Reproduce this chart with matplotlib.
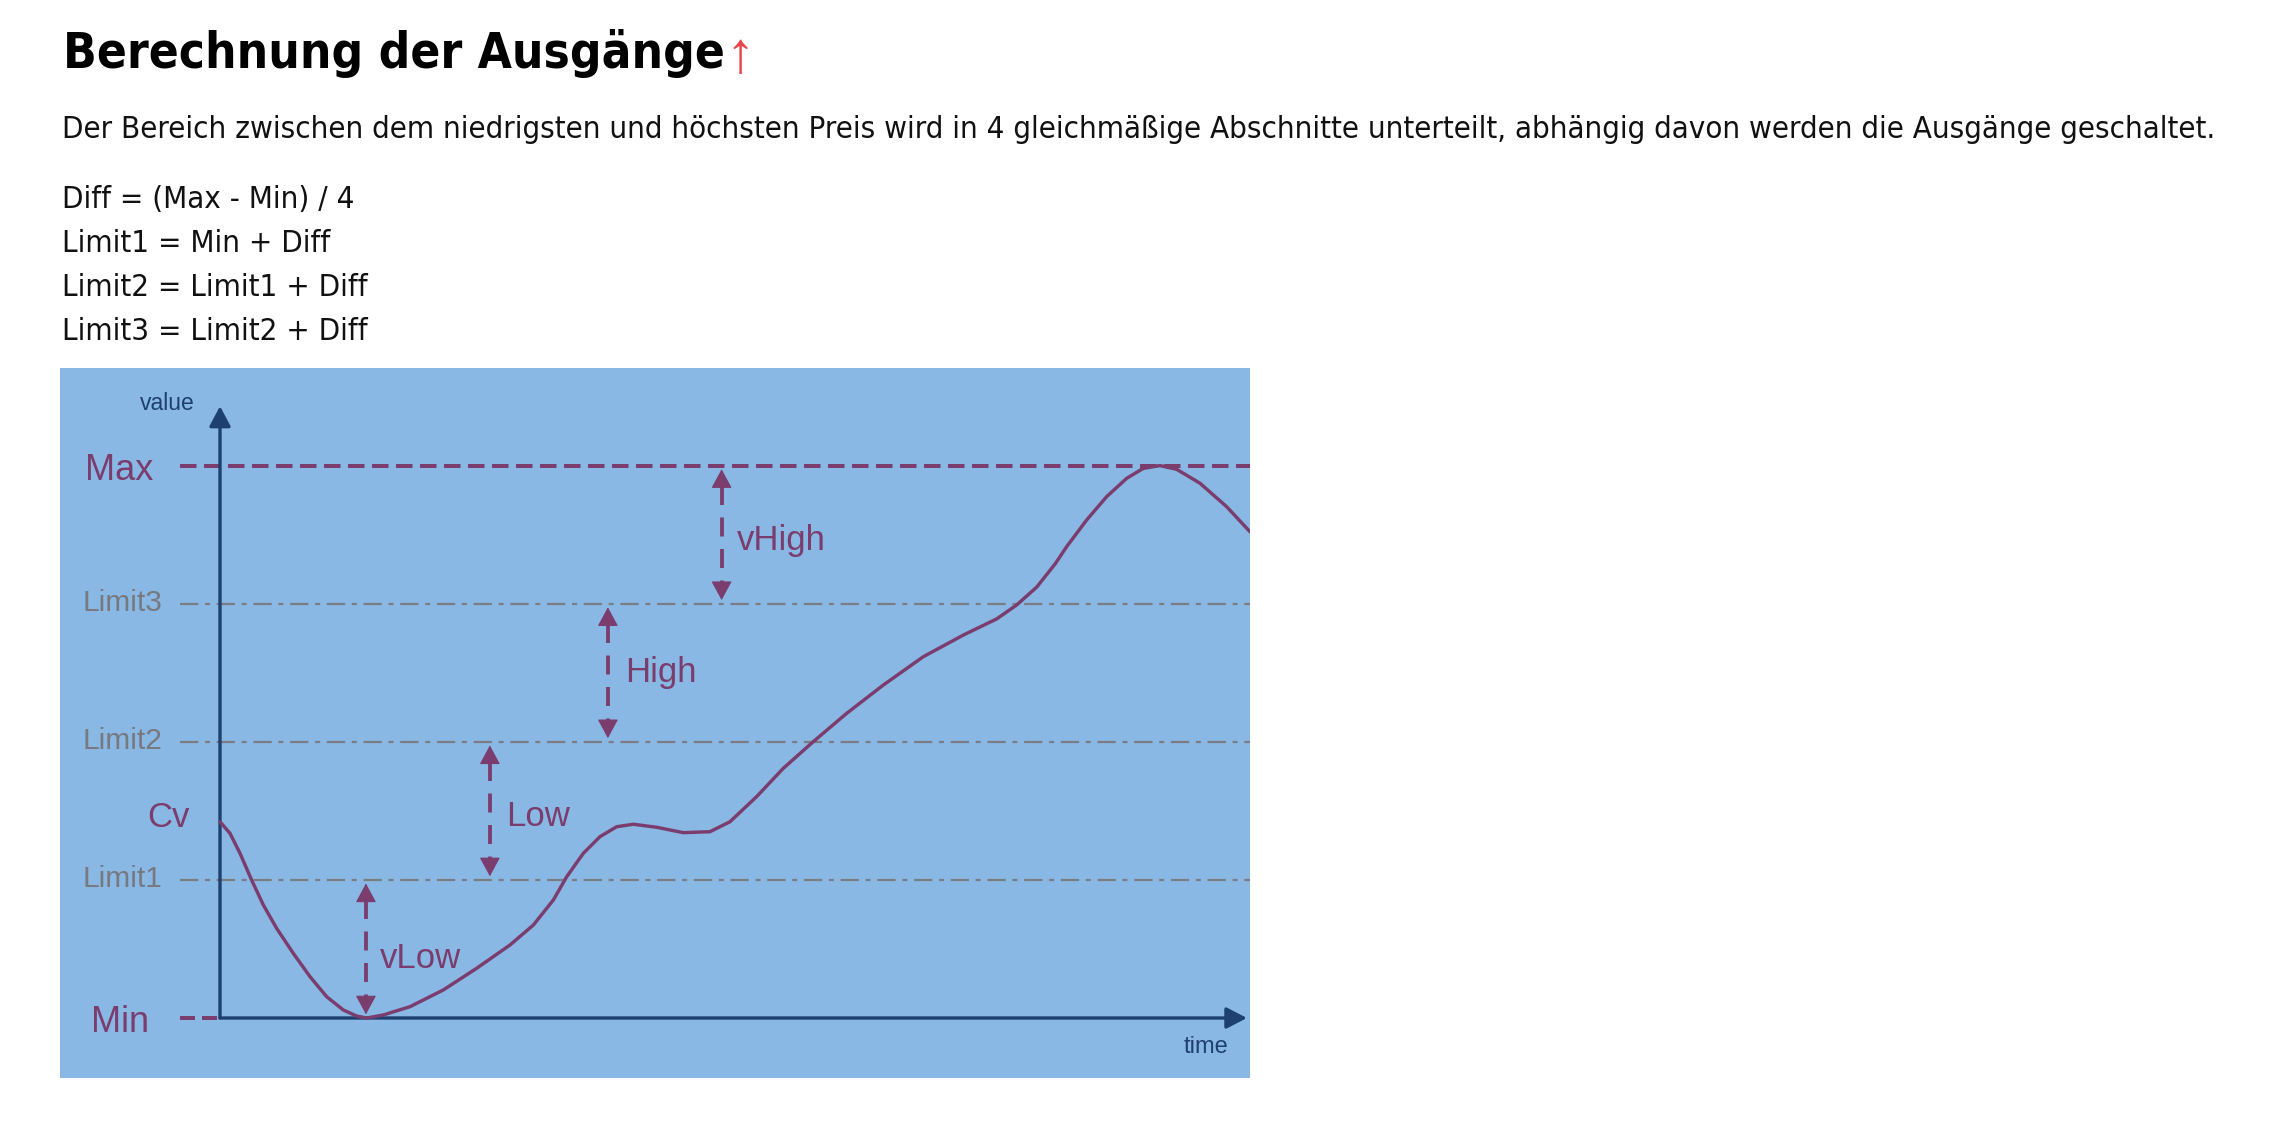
import matplotlib
matplotlib.use("Agg")
import matplotlib.pyplot as plt

plt.rcParams['lines.scale_dashes'] = False

# ---------------- data ----------------
title_text = "Berechnung der Ausgänge"
title_mark = "↑"
paragraph_text = ("Der Bereich zwischen dem niedrigsten und höchsten Preis wird in 4 gleichmäßige "
                  "Abschnitte unterteilt, abhängig davon werden die Ausgänge geschaltet.")
formula_lines = ["Diff = (Max - Min) / 4",
                 "Limit1 = Min + Diff",
                 "Limit2 = Limit1 + Diff",
                 "Limit3 = Limit2 + Diff"]

level_values = [0, 1, 2, 3, 4]
level_labels = ["Min", "Limit1", "Limit2", "Limit3", "Max"]

zone_labels = ["vLow", "Low", "High", "vHigh"]
zone_arrow_time = [1.417, 2.62, 3.766, 4.87]
zone_label_time = [1.553, 2.78, 3.93, 5.016]

curve_time = [0.0, 0.097, 0.194, 0.307, 0.421, 0.55, 0.712, 0.874, 1.036, 1.197, 1.327,
              1.424, 1.586, 1.845, 2.168, 2.492, 2.816, 3.042, 3.236, 3.366, 3.528,
              3.689, 3.851, 4.013, 4.24, 4.498, 4.757, 4.951, 5.21, 5.469, 5.76, 6.084,
              6.44, 6.828, 7.217, 7.541, 7.735, 7.929, 8.11, 8.22, 8.414, 8.608, 8.803,
              8.964, 9.126, 9.288, 9.515, 9.774, 10.0]
curve_value = [1.421, 1.337, 1.193, 0.999, 0.818, 0.649, 0.468, 0.299, 0.154, 0.058, 0.014,
               0.0, 0.022, 0.082, 0.203, 0.36, 0.529, 0.673, 0.854, 1.023, 1.193,
               1.313, 1.385, 1.403, 1.381, 1.342, 1.349, 1.421, 1.603, 1.808, 2.001, 2.206,
               2.411, 2.616, 2.773, 2.89, 2.991, 3.12, 3.29, 3.413, 3.606, 3.775, 3.908,
               3.98, 4.0, 3.973, 3.872, 3.702, 3.521]

axis_labels = ["value", "time"]
cv_label = "Cv"

# ---------------- style ----------------
W, H = 2288, 1136
BG = "#8AB8E4"
PURPLE = "#7A3D6D"
GRAY_LINE = "#7C7C84"
GRAY_TEXT = "#78787F"
NAVY = "#1E406F"
PT = 72.0 / 100.0  # px -> pt

fig = plt.figure(figsize=(W / 100, H / 100), dpi=100)
fig.patch.set_facecolor("white")
renderer = fig.canvas.get_renderer()


def fx(px):
    return px / W


def fy(py):
    return 1 - py / H


def fit_text(x_px, base_px, s, width_px, **kw):
    t = fig.text(fx(x_px), fy(base_px), s, fontsize=20, va="baseline", ha="left", **kw)
    bb = t.get_window_extent(renderer)
    t.set_fontsize(20 * width_px / bb.width)
    return t


# header text
head_font = dict(family="DejaVu Sans", fontstretch="condensed")
t_title = fit_text(62.7, 68.3, title_text, 662, fontweight="bold", color="#000000", **head_font)
bb = t_title.get_window_extent(renderer)
fig.text(fx(bb.x1 + 1), fy(72), title_mark, fontsize=42, family="Liberation Sans",
         color="#E8474C", va="baseline", ha="left")

t_par = fit_text(62, 137.5, paragraph_text, 2156, color="#111111", **head_font)
par_size = t_par.get_fontsize()
for line, base in zip(formula_lines, [207.7, 251.7, 296, 340]):
    fig.text(fx(62), fy(base), line, fontsize=par_size, color="#111111",
             va="baseline", ha="left", **head_font)

# ---------------- diagram ----------------
ax = fig.add_axes([fx(60), fy(1078), (1250 - 60) / W, (1078 - 368) / H])
ax.set_facecolor(BG)
for s in ax.spines.values():
    s.set_visible(False)
ax.set_xticks([])
ax.set_yticks([])
ax.set_xlim((60 - 220) / 103, (1250 - 220) / 103)
ax.set_ylim((1018 - 1078) / 138.1, (1018 - 368) / 138.1)

x0, x1 = ax.get_xlim()
px_per_v = ax.transData.transform((0, 1))[1] - ax.transData.transform((0, 0))[1]
line_start = (180 - 220) / 103

# level lines
for val, lab in zip(level_values, level_labels):
    if lab == "Max":
        ax.hlines(val, line_start, x1, colors=PURPLE, lw=4 * PT,
                  linestyles=(0, (16.5 * PT, 7.5 * PT)), zorder=2)
    elif lab == "Min":
        ax.hlines(val, line_start, 0, colors=PURPLE, lw=4 * PT,
                  linestyles=(0, (15 * PT, 7 * PT)), zorder=2)
    else:
        ax.hlines(val, line_start, x1, colors=GRAY_LINE, lw=2.2 * PT,
                  linestyles=(0, (18.3 * PT, 6.7 * PT, 5 * PT, 6.7 * PT)), zorder=2)

# level labels
for val, lab in zip(level_values, level_labels):
    if lab in ("Max", "Min"):
        ax.text(-0.975, val - 14 / 138.1, lab, fontsize=26, family="Liberation Sans",
                color=PURPLE, ha="center", va="baseline")
    else:
        ax.text(-0.95, val - 7 / 138.1, lab, fontsize=21.5, family="Liberation Sans",
                color=GRAY_TEXT, ha="center", va="baseline")

# axes arrows
ax.annotate("", xy=(0, 4.43), xytext=(0, 0),
            arrowprops=dict(arrowstyle="-|>,head_length=12.2,head_width=6.5",
                            mutation_scale=1, lw=2.4, color=NAVY, shrinkA=0, shrinkB=0),
            zorder=3)
ax.annotate("", xy=(9.97, 0), xytext=(0, 0),
            arrowprops=dict(arrowstyle="-|>,head_length=12.5,head_width=6.5",
                            mutation_scale=1, lw=2.4, color=NAVY, shrinkA=0, shrinkB=0),
            zorder=3)
ax.text(-0.508, 4.405, axis_labels[0], fontsize=16.5, family="Liberation Sans",
        color=NAVY, ha="center", va="baseline")
ax.text(9.57, -0.25, axis_labels[1], fontsize=17, family="Liberation Sans",
        color=NAVY, ha="center", va="baseline")

# curve
ax.plot(curve_time, curve_value, color=PURPLE, lw=3.4 * PT, zorder=4,
        solid_joinstyle="round", solid_capstyle="round")
ax.text(-0.505, 1.381, cv_label, fontsize=25, family="Liberation Sans",
        color=PURPLE, ha="center", va="baseline")

# zone arrows
head_len = 12.2
shrink = 2.6
gap_v = (head_len + shrink) / PT / px_per_v
for i, lab in enumerate(zone_labels):
    lo, hi = level_values[i], level_values[i + 1]
    t = zone_arrow_time[i]
    for tip, sign in ((hi, -1), (lo, 1)):
        ax.annotate("", xy=(t, tip), xytext=(0, sign * (head_len + shrink)),
                    textcoords="offset points",
                    arrowprops=dict(arrowstyle="-|>,head_length=%.1f,head_width=6.6" % head_len,
                                    mutation_scale=1, lw=0.8, color=PURPLE,
                                    shrinkA=0, shrinkB=shrink),
                    zorder=5)
    ax.plot([t, t], [hi - gap_v, lo + gap_v], color=PURPLE, lw=3.8 * PT,
            linestyle=(0, (19 * PT, 12.5 * PT)), zorder=5)

zone_label_base = [0.36, 1.39, 2.43, 3.389]
for lab, tl, vb in zip(zone_labels, zone_label_time, zone_label_base):
    ax.text(tl, vb, lab, fontsize=25, family="Liberation Sans", color=PURPLE,
            ha="left", va="baseline")

fig.savefig("out.png", dpi=100, facecolor="white")
